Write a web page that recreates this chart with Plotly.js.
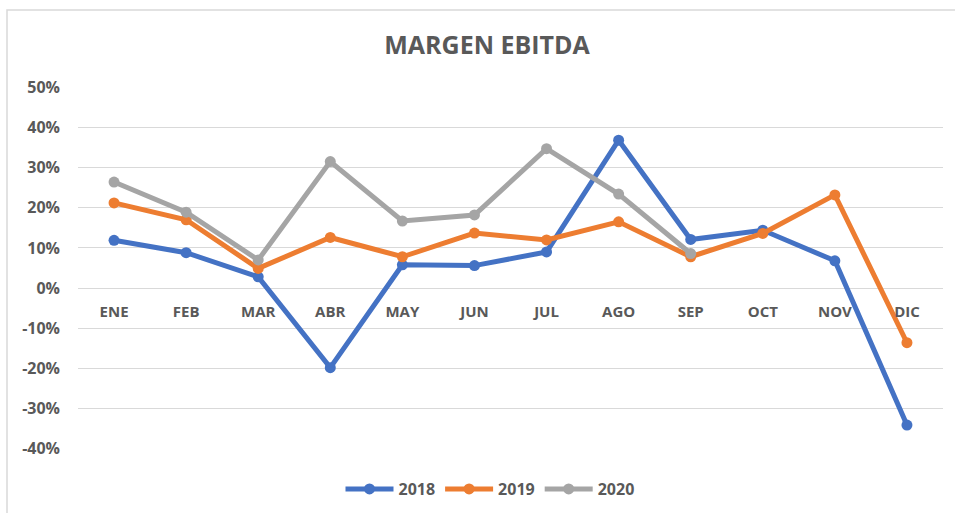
<!DOCTYPE html>
<html>
<head>
<meta charset="utf-8">
<script src="https://cdn.plot.ly/plotly-3.0.1.min.js"></script>
<style>html,body{margin:0;padding:0;background:#fff;}#chart{width:955px;height:513px;}</style>
</head>
<body>
<div id="chart"></div>
<script>
var months = ['ENE','FEB','MAR','ABR','MAY','JUN','JUL','AGO','SEP','OCT','NOV','DIC'];
var months2020 = ['ENE','FEB','MAR','ABR','MAY','JUN','JUL','AGO','SEP'];
var margen2018 = [0.119, 0.088, 0.028, -0.198, 0.058, 0.056, 0.090, 0.368, 0.121, 0.144, 0.068, -0.341];
var margen2019 = [0.212, 0.170, 0.049, 0.126, 0.078, 0.137, 0.120, 0.165, 0.078, 0.136, 0.232, -0.136];
var margen2020 = [0.264, 0.189, 0.070, 0.315, 0.167, 0.182, 0.347, 0.234, 0.086];
var yTickVals = [-0.4, -0.3, -0.2, -0.1, 0, 0.1, 0.2, 0.3, 0.4, 0.5];
var yTickText = ['-40%','-30%','-20%','-10%','0%','10%','20%','30%','40%','50%'];

var txtColor = '#595959';
var fontFam = '"Open Sans", "Noto Sans", sans-serif';

function series(name, x, y, color) {
  return {
    type: 'scatter', mode: 'lines+markers', name: name,
    x: x, y: y,
    line: {color: color, width: 5},
    marker: {color: color, size: 11},
    cliponaxis: false
  };
}

var data = [
  series('2018', months, margen2018, '#4472C4'),
  series('2019', months, margen2019, '#ED7D31'),
  series('2020', months2020, margen2020, '#A5A5A5')
];

var layout = {
  width: 955, height: 513,
  margin: {l: 78, r: 12, t: 87, b: 64},
  paper_bgcolor: '#ffffff', plot_bgcolor: '#ffffff',
  font: {family: fontFam, color: txtColor},
  title: {
    text: 'MARGEN EBITDA',
    font: {family: fontFam, size: 25, color: txtColor, weight: 'bold'},
    xref: 'container', x: 487/955, xanchor: 'center',
    yref: 'container', y: 1 - 45/513, yanchor: 'middle'
  },
  xaxis: {
    type: 'category', categoryorder: 'array', categoryarray: months,
    range: [-0.5, 11.5],
    anchor: 'free', position: 0.4 / 0.9,
    showgrid: false, showline: false, zeroline: false, ticks: '',
    ticklabelstandoff: 13,
    tickfont: {family: fontFam, size: 15, color: txtColor, weight: 'bold'},
    fixedrange: true
  },
  yaxis: {
    range: [-0.4005, 0.5005],
    tickvals: yTickVals, ticktext: yTickText,
    showgrid: true, gridcolor: '#d9d9d9', gridwidth: 1,
    zeroline: false, showline: false, ticks: '',
    ticklabelstandoff: 17,
    tickfont: {family: fontFam, size: 16, color: txtColor, weight: 'bold'},
    fixedrange: true
  },
  showlegend: true,
  legend: {
    orientation: 'h',
    xref: 'container', x: 490/955, xanchor: 'center',
    yref: 'container', y: 1 - 489/513, yanchor: 'middle',
    font: {family: fontFam, size: 16, color: txtColor, weight: 'bold'},
    itemwidth: 48, traceorder: 'normal'
  },
  shapes: [{
    type: 'rect', xref: 'paper', yref: 'paper',
    x0: (7 - 78) / 865, x1: 1.2, y0: -0.3, y1: (449 - 10) / 362,
    line: {color: '#d9d9d9', width: 1.5}, fillcolor: 'rgba(0,0,0,0)', layer: 'below'
  }]
};

Plotly.newPlot('chart', data, layout, {displayModeBar: false, staticPlot: true});
</script>
</body>
</html>
